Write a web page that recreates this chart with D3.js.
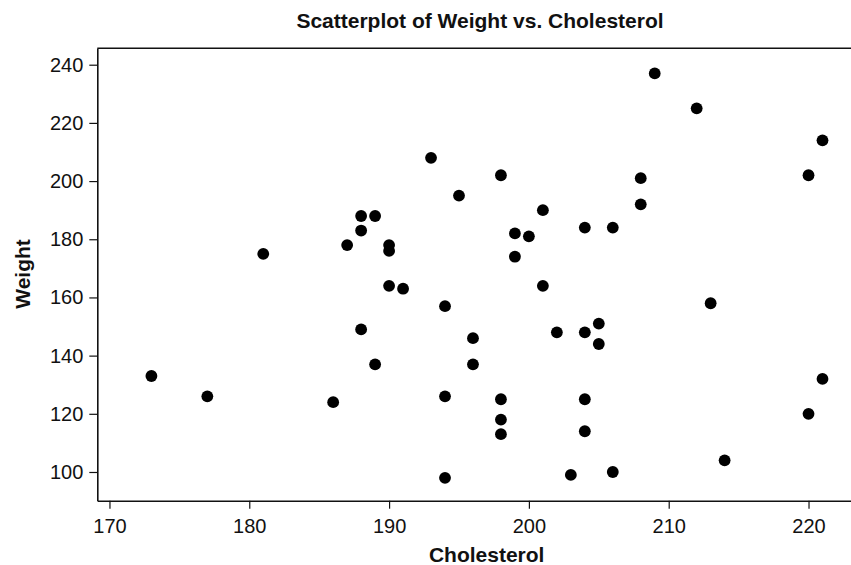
<!DOCTYPE html>
<html>
<head>
<meta charset="utf-8">
<script src="https://cdn.jsdelivr.net/npm/d3@7"></script>
<style>
  body { margin: 0; background: #fff; }
  svg text { font-family: "Liberation Sans", Arial, Helvetica, sans-serif; fill: #111; }
</style>
</head>
<body>
<div id="chart"></div>
<script>
// Cholesterol (x) and Weight (y) for each subject
const cholesterol = [173, 177, 181, 186, 187, 188, 189, 188, 188, 189,
                     190, 190, 190, 191, 193, 194, 194, 194, 195, 196,
                     196, 198, 198, 198, 198, 199, 199, 200, 201, 201,
                     202, 203, 204, 204, 204, 204, 205, 205, 206, 206,
                     208, 208, 209, 212, 213, 214, 220, 220, 221, 221];
const weight = [133, 126, 175, 124, 178, 188, 188, 183, 149, 137,
                178, 176, 164, 163, 208, 157, 126, 98, 195, 146,
                137, 202, 125, 118, 113, 182, 174, 181, 190, 164,
                148, 99, 184, 148, 125, 114, 151, 144, 184, 100,
                201, 192, 237, 225, 158, 104, 202, 120, 214, 132];

const xTicks = [170, 180, 190, 200, 210, 220];
const yTicks = [100, 120, 140, 160, 180, 200, 220, 240];

const svgWidth = 851;
const svgHeight = 565;
const margin = { top: 48.3, right: -1, bottom: 64.3, left: 97.3 };
const width = svgWidth - margin.left - margin.right;
const height = svgHeight - margin.top - margin.bottom;

const data = cholesterol.map((c, i) => ({ c: c, w: weight[i] }));

const svg = d3.select('#chart').append('svg')
    .attr('width', svgWidth)
    .attr('height', svgHeight);

const g = svg.append('g')
    .attr('transform', `translate(${margin.left},${margin.top})`);

const xScale = d3.scaleLinear()
    .domain([169.13, 223.11])
    .range([0, width]);

const yScale = d3.scaleLinear()
    .domain([90.13, 245.64])
    .range([height, 0]);

// Frame (top line, right side runs off the picture)
g.append('line')
    .attr('x1', 0).attr('x2', width)
    .attr('y1', 0).attr('y2', 0)
    .attr('stroke', '#111')
    .attr('stroke-width', 1.6);

const xAxis = g.append('g')
    .attr('transform', `translate(0,${height})`)
    .call(d3.axisBottom(xScale).tickValues(xTicks).tickSize(8).tickSizeOuter(0).tickPadding(10));

const yAxis = g.append('g')
    .call(d3.axisLeft(yScale).tickValues(yTicks).tickSize(8).tickSizeOuter(0).tickPadding(6));

[xAxis, yAxis].forEach(ax => {
    ax.select('.domain').attr('stroke', '#111').attr('stroke-width', 1.6);
    ax.selectAll('.tick line').attr('stroke', '#111').attr('stroke-width', 1.2);
    ax.selectAll('.tick text')
        .style('font-size', '20px')
        .style('font-family', '"Liberation Sans", Arial, sans-serif')
        .attr('fill', '#111');
});

// Points
g.selectAll('circle')
    .data(data)
    .enter()
    .append('circle')
    .attr('cx', d => xScale(d.c))
    .attr('cy', d => yScale(d.w))
    .attr('r', 5.9)
    .attr('fill', '#000');

// Title
svg.append('text')
    .attr('x', 480)
    .attr('y', 27.5)
    .attr('text-anchor', 'middle')
    .style('font-size', '21px')
    .style('font-weight', 'bold')
    .text('Scatterplot of Weight vs. Cholesterol');

// X Axis label
svg.append('text')
    .attr('x', 486.7)
    .attr('y', 562)
    .attr('text-anchor', 'middle')
    .style('font-size', '21px')
    .style('font-weight', 'bold')
    .text('Cholesterol');

// Y Axis label
svg.append('text')
    .attr('transform', 'translate(30,274) rotate(-90)')
    .attr('text-anchor', 'middle')
    .style('font-size', '21px')
    .style('font-weight', 'bold')
    .text('Weight');
</script>
</body>
</html>
